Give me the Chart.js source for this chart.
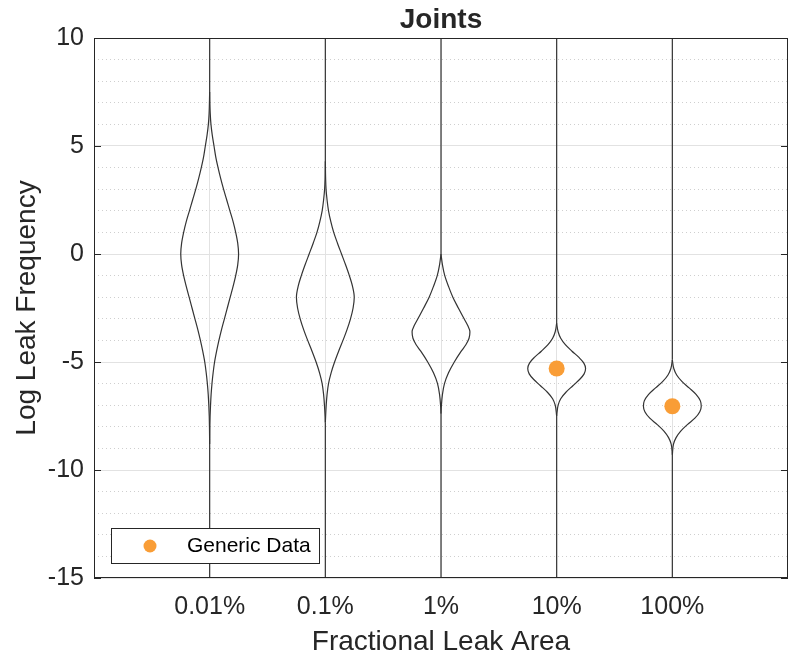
<!DOCTYPE html>
<html>
<head>
<meta charset="utf-8">
<script src="https://cdn.jsdelivr.net/npm/chart.js@4.4.1/dist/chart.umd.min.js"></script>
<style>
  html, body { margin: 0; padding: 0; background: #fff; overflow: hidden; }
  canvas { display: block; }
</style>
</head>
<body>
<canvas id="violinChart" width="793" height="662"></canvas>
<script>
const categories = ['0.01%', '0.1%', '1%', '10%', '100%'];
const yMajorTicks = [-15, -10, -5, 0, 5, 10];

// violin outlines: log frequency levels and relative half-width (1 = widest)
const violinLevels = [
  [7.5, 6.5, 6, 5.5, 5, 4.5, 4, 3.5, 3, 2.5, 2, 1.5, 1, 0.5, 0, -0.5, -1, -1.5, -2, -2.5, -3, -3.5, -4, -4.5, -5, -5.5, -6, -6.5, -7, -7.5, -8, -8.8],
  [4.3, 3.5, 3, 2.5, 2, 1.5, 1, 0.5, 0, -0.5, -1, -1.5, -2, -2.5, -3, -3.5, -4, -4.5, -5, -5.5, -6, -6.5, -7, -7.8],
  [0, -0.5, -1, -1.5, -2, -2.5, -3, -3.3, -3.6, -3.9, -4.2, -4.5, -5, -5.5, -6, -6.5, -7, -7.4],
  [-3.2, -3.6, -3.9, -4.2, -4.5, -4.8, -5.05, -5.3, -5.55, -5.8, -6.1, -6.4, -6.7, -7, -7.5],
  [-4.9, -5.3, -5.6, -5.9, -6.2, -6.5, -6.8, -7.05, -7.3, -7.6, -7.9, -8.2, -8.5, -8.8, -9.3]
];
const violinWidths = [
  [0, 0.02, 0.045, 0.09, 0.15, 0.21, 0.29, 0.38, 0.48, 0.59, 0.7, 0.81, 0.9, 0.97, 1, 0.97, 0.9, 0.81, 0.71, 0.61, 0.51, 0.41, 0.32, 0.24, 0.17, 0.12, 0.08, 0.05, 0.03, 0.015, 0.007, 0],
  [0, 0.01, 0.025, 0.06, 0.11, 0.19, 0.29, 0.42, 0.56, 0.7, 0.83, 0.94, 1, 0.96, 0.87, 0.75, 0.61, 0.46, 0.32, 0.2, 0.11, 0.06, 0.03, 0],
  [0, 0.05, 0.13, 0.26, 0.41, 0.6, 0.8, 0.92, 1, 0.97, 0.86, 0.7, 0.46, 0.26, 0.12, 0.05, 0.015, 0],
  [0, 0.05, 0.14, 0.3, 0.53, 0.78, 0.94, 1, 0.95, 0.8, 0.56, 0.32, 0.14, 0.05, 0],
  [0, 0.05, 0.15, 0.33, 0.58, 0.82, 0.97, 1, 0.95, 0.78, 0.52, 0.29, 0.13, 0.04, 0]
];

// generic data points
const genericCategories = ['10%', '100%'];
const genericValues = [-5.3, -7.05];

const Y_MIN = yMajorTicks[0];
const Y_MAX = yMajorTicks[yMajorTicks.length - 1];
const HALF_WIDTH = 0.25;
const FONT = '"Liberation Sans", Arial, Helvetica, sans-serif';
const TEXT = '#262626';
const LINE = '#333333';

const datasets = [];
categories.forEach((cat, i) => {
  const c = i + 1;
  const lv = violinLevels[i];
  const w = violinWidths[i];
  // right and left outline, smoothed along the value axis
  [1, -1].forEach(side => {
    datasets.push({
      data: lv.map((y, k) => ({ x: c + side * HALF_WIDTH * w[k], y: y })),
      indexAxis: 'y',
      showLine: true,
      pointRadius: 0,
      borderColor: LINE,
      borderWidth: 1.2,
      cubicInterpolationMode: 'monotone',
      fill: false
    });
  });
  // tails up to the top and down to the bottom of the axes
  datasets.push({
    data: [
      { x: c, y: Y_MAX }, { x: c, y: lv[0] }, { x: c, y: null },
      { x: c, y: lv[lv.length - 1] }, { x: c, y: Y_MIN }
    ],
    showLine: true,
    spanGaps: false,
    pointRadius: 0,
    borderColor: LINE,
    borderWidth: 1.2,
    tension: 0
  });
});
datasets.push({
  label: 'Generic Data',
  data: genericCategories.map((cat, k) => ({ x: categories.indexOf(cat) + 1, y: genericValues[k] })),
  pointRadius: 8,
  pointHoverRadius: 8,
  backgroundColor: '#f99d36',
  borderWidth: 0,
  showLine: false
});

// axes box, inward ticks, title and legend
const frame = {
  id: 'frame',
  afterDraw(chart) {
    const { ctx, chartArea: a, scales } = chart;
    ctx.save();
    ctx.strokeStyle = TEXT;
    ctx.lineWidth = 1;
    ctx.strokeRect(a.left + 0.5, a.top + 0.5, a.right - a.left - 1, a.bottom - a.top - 1);
    ctx.beginPath();
    yMajorTicks.forEach(v => {
      const py = Math.round(scales.y.getPixelForValue(v)) + 0.5;
      ctx.moveTo(a.left, py); ctx.lineTo(a.left + 7, py);
      ctx.moveTo(a.right, py); ctx.lineTo(a.right - 7, py);
    });
    ctx.stroke();

    ctx.fillStyle = TEXT;
    ctx.font = 'bold 28px ' + FONT;
    ctx.textAlign = 'center';
    ctx.textBaseline = 'middle';
    ctx.fillText('Joints', (a.left + a.right) / 2, 20);

    // legend
    const ds = chart.data.datasets[chart.data.datasets.length - 1];
    const lx = a.left + 17, ly = a.bottom - 50;
    ctx.fillStyle = '#fff';
    ctx.fillRect(lx, ly, 208, 35);
    ctx.strokeStyle = TEXT;
    ctx.strokeRect(lx + 0.5, ly + 0.5, 208, 35);
    ctx.fillStyle = ds.backgroundColor;
    ctx.beginPath();
    ctx.arc(lx + 39, ly + 18, 6.5, 0, Math.PI * 2);
    ctx.fill();
    ctx.fillStyle = '#000';
    ctx.font = '21px ' + FONT;
    ctx.textAlign = 'left';
    ctx.fillText(ds.label, lx + 76, ly + 18);
    ctx.restore();
  }
};

new Chart(document.getElementById('violinChart'), {
  type: 'scatter',
  data: { datasets: datasets },
  options: {
    responsive: false,
    animation: false,
    devicePixelRatio: 1,
    layout: { autoPadding: false, padding: { top: 38, right: 5, left: 0, bottom: 0 } },
    plugins: {
      legend: { display: false },
      tooltip: { enabled: false }
    },
    scales: {
      x: {
        type: 'linear',
        min: 0,
        max: categories.length + 1,
        afterBuildTicks: s => { s.ticks = categories.map((c, i) => ({ value: i + 1 })); },
        afterFit: s => { s.height = 84; },
        ticks: {
          autoSkip: false,
          maxRotation: 0,
          padding: 14,
          color: TEXT,
          font: { family: FONT, size: 25 },
          callback: v => categories[v - 1]
        },
        grid: { color: '#e2e2e2', drawTicks: false },
        border: { display: false },
        title: {
          display: true,
          text: 'Fractional Leak Area',
          color: TEXT,
          font: { family: FONT, size: 28 },
          padding: { top: 0, bottom: 3 }
        }
      },
      y: {
        min: Y_MIN,
        max: Y_MAX,
        afterFit: s => { s.width = 94; },
        ticks: {
          stepSize: 1,
          autoSkip: false,
          padding: 10,
          color: TEXT,
          font: { family: FONT, size: 25 },
          callback: v => (v % 5 === 0 ? String(v) : '')
        },
        grid: {
          drawTicks: false,
          color: c => (c.tick && c.tick.value % 5 === 0 ? '#e2e2e2' : '#cfcfcf')
        },
        border: {
          display: false,
          dash: c => (c.tick && c.tick.value % 5 !== 0 ? [1, 3] : [])
        },
        title: {
          display: true,
          text: 'Log Leak Frequency',
          color: TEXT,
          font: { family: FONT, size: 28 },
          padding: { top: 10, bottom: 0 }
        }
      }
    }
  },
  plugins: [frame]
});
</script>
</body>
</html>
